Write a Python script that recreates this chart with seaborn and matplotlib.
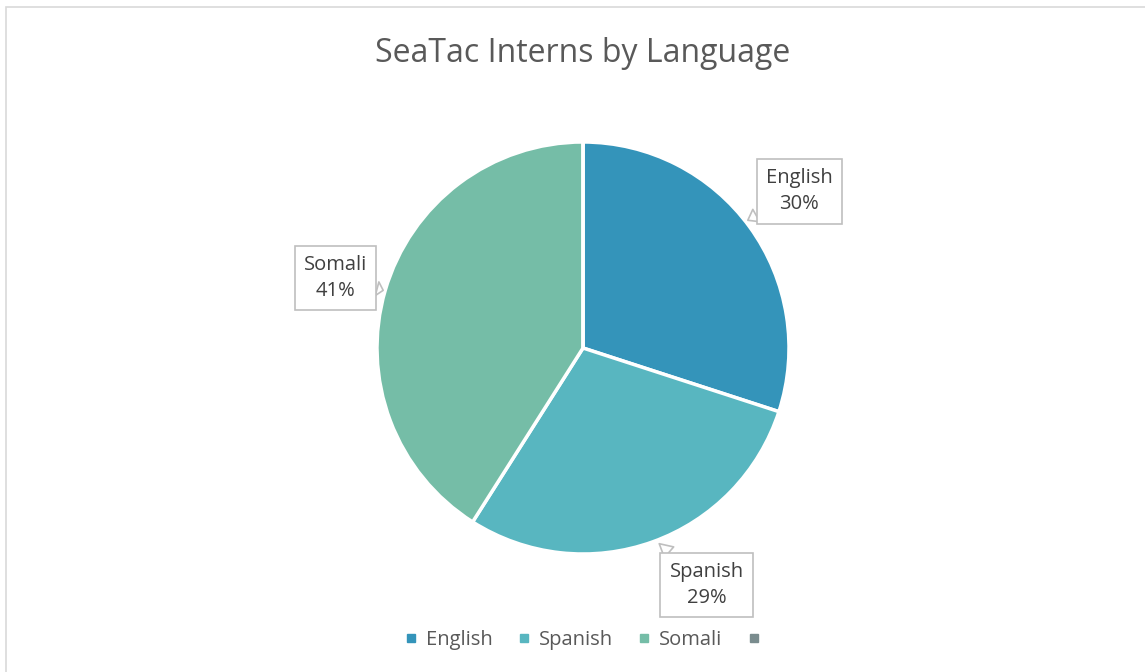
import matplotlib
matplotlib.use('Agg')
import matplotlib.pyplot as plt
import seaborn as sns
from matplotlib.lines import Line2D
from matplotlib.patches import Rectangle

sns.set_theme(style='white')
plt.rcParams['font.family'] = ['Open Sans', 'DejaVu Sans']

languages = ['English', 'Spanish', 'Somali', '']
shares = [30, 29, 41, 0]
colors = ['#3494BA', '#58B6C0', '#75BDA7', '#7A8C8E']
label_text = ['English\n30%', 'Spanish\n29%', 'Somali\n41%']
label_pos = [(1.05, 0.76), (0.60, -1.15), (-1.20, 0.34)]
tip_pos = [(0.80, 0.62), (0.37, -0.95), (-0.97, 0.28)]

fig = plt.figure(figsize=(11.45, 6.72), dpi=100)
ax = fig.add_axes([274 / 1145, 15 / 672, 618 / 1145, 618 / 672])
ax.pie(shares, colors=colors, startangle=90, counterclock=False, radius=1,
       wedgeprops=dict(edgecolor='white', linewidth=2.5))
ax.set_xlim(-1.5, 1.5)
ax.set_ylim(-1.5, 1.5)
ax.set_aspect('equal')
ax.axis('off')

for txt, pos, tip in zip(label_text, label_pos, tip_pos):
    ax.annotate(txt, xy=tip, xytext=pos, ha='center', va='center',
                fontsize=14.5, color='#404040', linespacing=1.4,
                bbox=dict(boxstyle='square,pad=0.45', fc='white', ec='#bfbfbf', lw=1.2),
                arrowprops=dict(arrowstyle='wedge,tail_width=0.7', fc='white',
                                ec='#bfbfbf', lw=1.2, shrinkA=0, shrinkB=0))

fig.text(0.509, 1 - 54 / 672, 'SeaTac Interns by Language', ha='center', va='center',
         fontsize=23, color='#595959')

handles = [Line2D([], [], marker='s', linestyle='', markersize=6, color=c) for c in colors]
fig.legend(handles, languages, loc='center', bbox_to_anchor=(0.512, 1 - 640 / 672),
           ncol=4, frameon=False, fontsize=14.5, handlelength=0.7, handletextpad=0.4,
           columnspacing=1.2, labelcolor='#595959')

fig.patches.append(Rectangle((6 / 1145, -0.1), 1.2, 1 - 7 / 672 + 0.1,
                             transform=fig.transFigure, fill=False,
                             ec='#d9d9d9', lw=1.2))

fig.savefig('out.png', dpi=100)
